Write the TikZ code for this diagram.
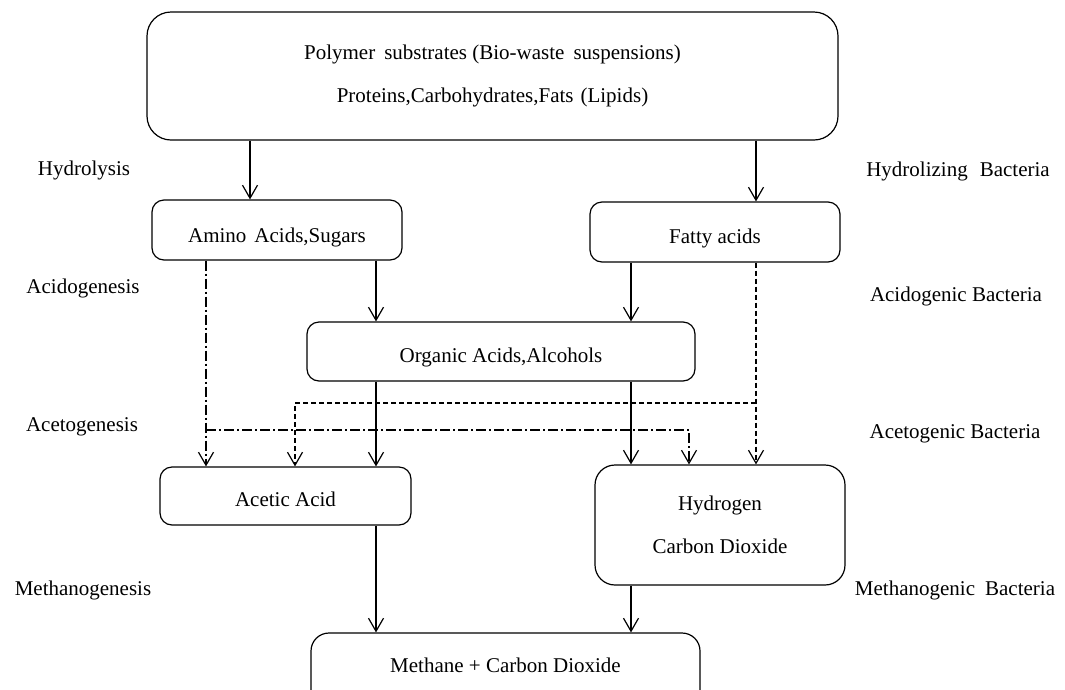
\documentclass[tikz,border=0pt]{standalone}
\usepackage{fontspec}
\setmainfont{Liberation Serif}
\usetikzlibrary{arrows.meta}
% text set on the box centre line, lowered by #1
\newcommand{\lowtext}[2]{\raisebox{-#1}[0pt][0pt]{#2}}
\begin{document}
\begin{tikzpicture}[x=1pt,y=-1pt,
  line width=1.2pt,
  every node/.style={font=\fontsize{21}{43}\selectfont, inner sep=0pt},
  box/.style={draw, rounded corners=#1, align=center},
  box/.default=12pt,
  arr/.style={-{Straight Barb[length=13pt,width=15pt,line width=1.2pt]}},
  dd/.style={dash pattern=on 10pt off 3pt on 2pt off 3pt},
  dsh/.style={dash pattern=on 5pt off 3pt},
  stage/.style={anchor=center}]
\useasboundingbox (0,0) rectangle (1065,689);
\clip (0,0) rectangle (1065,689);

% process boxes
\node[box=24pt, minimum width=691pt, minimum height=128pt] (top) at (492.5,76)
  {\raisebox{3pt}{Polymer\hspace{9pt}substrates (Bio-waste\hspace{9pt}suspensions)}\\\raisebox{3pt}{Proteins,Carbohydrates,Fats\hspace{7pt}(Lipids)}};
\node[box, minimum width=250pt, minimum height=60pt] (amino) at (277,230) {\lowtext{12pt}{Amino\hspace{8pt}Acids,Sugars}};
\node[box, minimum width=250pt, minimum height=60pt] (fatty) at (715,232) {\lowtext{11.5pt}{Fatty acids}};
\node[box, minimum width=388pt, minimum height=59pt] (organic) at (501,351.5) {\lowtext{10.5pt}{Organic Acids,Alcohols}};
\node[box, minimum width=251pt, minimum height=58pt] (acetic) at (285.5,496) {\lowtext{10.5pt}{Acetic Acid}};
\node[box=20pt, minimum width=250pt, minimum height=120pt] (hydro) at (720,525)
  {Hydrogen\\Carbon Dioxide};
\node[box=18pt, minimum width=389pt, minimum height=74pt] (methane) at (505.5,670)
  {\lowtext{2pt}{Methane + Carbon Dioxide}};

% stage names
\node[stage] (s1) at (84,170) {Hydrolysis};
\node[stage] (s2) at (83,288) {Acidogenesis};
\node[stage] (s3) at (82,427) {Acetogenesis};
\node[stage] (s4) at (83,590) {Methanogenesis};
\node[stage] (b1) at (958,171) {Hydrolizing\hspace{12pt}Bacteria};
\node[stage] (b2) at (956,296) {Acidogenic Bacteria};
\node[stage] (b3) at (955,434) {Acetogenic Bacteria};
\node[stage] (b4) at (955,590) {Methanogenic\hspace{10pt}Bacteria};

% connector columns and levels
\coordinate (cA) at (206,0);
\coordinate (cB) at (250,0);
\coordinate (cC) at (295,0);
\coordinate (cD) at (376,0);
\coordinate (cE) at (631,0);
\coordinate (cF) at (689,0);
\coordinate (cG) at (756,0);
\coordinate (hD) at (0,403);
\coordinate (hDD) at (0,430);

% solid flows
\draw[arr] (top.south -| cB) -- (amino.north -| cB);
\draw[arr] (top.south -| cG) -- (fatty.north -| cG);
\draw[arr] (amino.south -| cD) -- (organic.north -| cD);
\draw[arr] (fatty.south -| cE) -- (organic.north -| cE);
\draw[arr] (organic.south -| cD) -- (acetic.north -| cD);
\draw[arr] (organic.south -| cE) -- (hydro.north -| cE);
\draw[arr] (acetic.south -| cD) -- (methane.north -| cD);
\draw[arr] (hydro.south -| cE) -- (methane.north -| cE);

% dash-dotted flows from amino acids and sugars
\draw[dd,arr] (amino.south -| cA) -- (acetic.north -| cA);
\draw[dd,arr] (cA |- hDD) -| (hydro.north -| cF);

% dashed flows from fatty acids
\draw[dsh,arr] (fatty.south -| cG) -- (hydro.north -| cG);
\draw[dsh,arr] (cG |- hD) -| (acetic.north -| cC);
\end{tikzpicture}
\end{document}
